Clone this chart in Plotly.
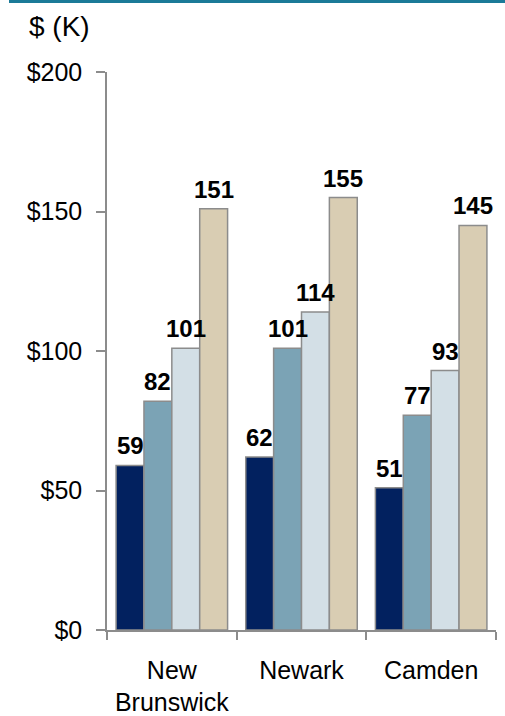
import plotly.graph_objects as go

categories = ["New<br>Brunswick", "Newark", "Camden"]
series_a = [59, 62, 51]
series_b = [82, 101, 77]
series_c = [101, 114, 93]
series_d = [151, 155, 145]
colors = ["#02215F", "#7BA3B5", "#D3DFE6", "#D9CDB3"]
y_ticks = [0, 50, 100, 150, 200]
y_tick_labels = ["$0", "$50", "$100", "$150", "$200"]

FONT = "Arial, Liberation Sans, sans-serif"
L, R, T, B = 107, 9, 72, 86
W, H = 505, 716
pw, ph = W - L - R, H - T - B
BARGAP = 0.14
bar_px = pw / len(categories) * (1 - BARGAP) / 4

fig = go.Figure()
annotations = []
for i, (vals, col) in enumerate(zip([series_a, series_b, series_c, series_d], colors)):
    fig.add_trace(go.Bar(
        x=categories, y=vals, marker=dict(color=col, line=dict(color="#8C8C8C", width=1.5)),
        showlegend=False, hoverinfo="skip",
    ))
    for c, v in zip(categories, vals):
        annotations.append(dict(
            x=c, y=v, xref="x", yref="y", text=f"<b>{v}</b>", showarrow=False,
            xshift=(i - 1.5) * bar_px, yshift=4, yanchor="bottom", xanchor="center",
            font=dict(family=FONT, size=24, color="#000000"),
        ))

annotations.append(dict(text="$ (K)", xref="paper", yref="paper", x=(27 - L) / pw,
                        y=1 + (T - 26) / ph, xanchor="left", yanchor="middle",
                        showarrow=False, font=dict(size=28)))

fig.update_layout(
    width=W, height=H, barmode="group", bargap=BARGAP, bargroupgap=0,
    margin=dict(l=L, r=R, t=T, b=B, autoexpand=False), plot_bgcolor="white", paper_bgcolor="white",
    font=dict(family=FONT, size=25, color="#000000"),
    xaxis=dict(showline=True, linecolor="#8C8C8C", linewidth=1.5, ticks="outside",
               tickson="boundaries", ticklen=8, tickcolor="#8C8C8C", tickwidth=1.5,
               tickfont=dict(size=25), showgrid=False, automargin=False,
               ticklabelstandoff=17),
    yaxis=dict(range=[0, 200], tickvals=y_ticks, ticktext=y_tick_labels, showline=True,
               linecolor="#8C8C8C", linewidth=1.5, ticks="outside", ticklen=9,
               tickcolor="#8C8C8C", tickwidth=1.5, showgrid=False, zeroline=False,
               tickfont=dict(size=25), automargin=False, ticklabelstandoff=9),
    shapes=[dict(type="rect", xref="paper", yref="paper",
                 x0=(9 - L) / pw, x1=(W - L) / pw,
                 y0=1 + (T - 3) / ph, y1=1 + T / ph,
                 fillcolor="#1B7A98", line=dict(width=0))],
    annotations=annotations,
)
fig.write_html("out.html", config={"displayModeBar": False},
               post_script="document.body.style.margin='0';")
